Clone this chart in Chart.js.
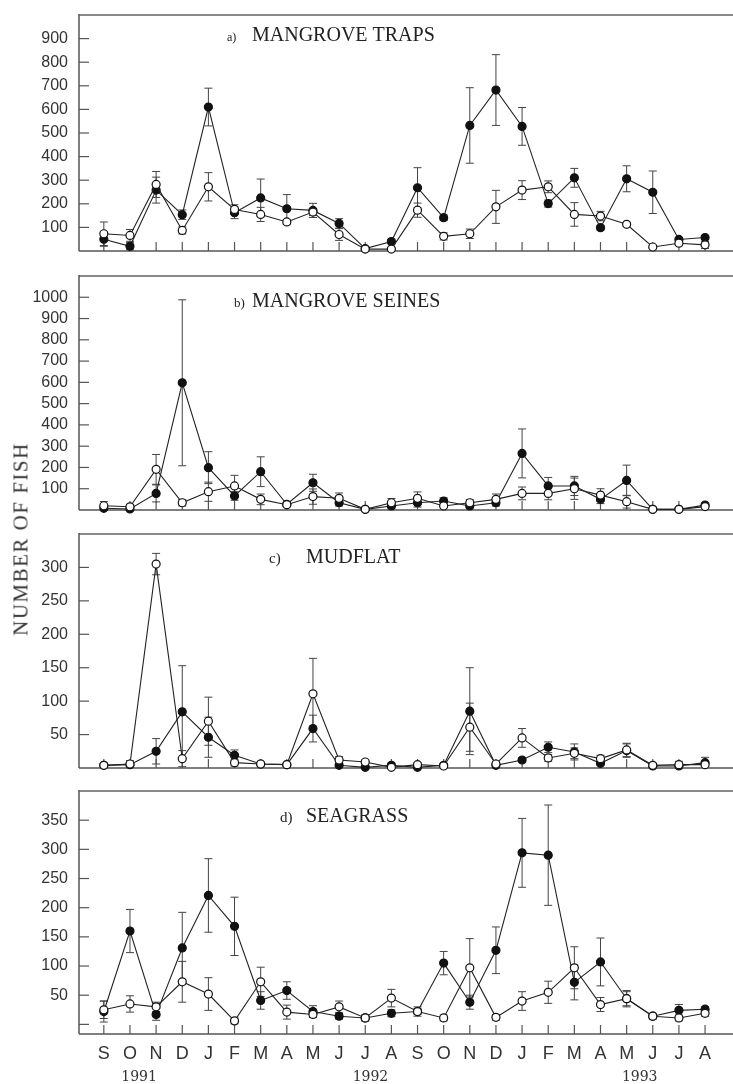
<!DOCTYPE html>
<html>
<head>
<meta charset="utf-8">
<script src="https://cdn.jsdelivr.net/npm/chart.js@4.4.1/dist/chart.umd.min.js"></script>
<style>
  html, body { margin: 0; padding: 0; background: #fff; }
  #wrap { position: relative; width: 733px; height: 1084px; overflow: hidden; background: #fff; }
  #wrap canvas { position: absolute; left: 0; }
  #ytitle {
    position: absolute; left: 21px; top: 539px;
    transform: translate(-50%, -50%) rotate(-90deg);
    font: 21px "Liberation Serif", serif; letter-spacing: 1.5px;
    color: #333; white-space: nowrap;
  }
</style>
</head>
<body>
<div id="wrap">
  <canvas id="ca"></canvas>
  <canvas id="cb"></canvas>
  <canvas id="cc"></canvas>
  <canvas id="cd"></canvas>
  <div id="ytitle">NUMBER OF FISH</div>
</div>
<script>
// months Sep 1991 .. Aug 1993
const months = ['S','O','N','D','J','F','M','A','M','J','J','A','S','O','N','D','J','F','M','A','M','J','J','A'];
const yearLabels = ['1991', '1992', '1993'];

// a) mangrove traps
const trapsFilled    = [50, 20, 258, 154, 610, 162, 225, 179, 172, 117, 10, 40, 268, 141, 532, 682, 528, 201, 310, 99, 306, 249, 49, 57];
const trapsFilledErr = [30, 15, 55, 20, 80, 25, 80, 60, 30, 20, 8, 10, 85, 12, 160, 150, 80, 15, 40, 10, 55, 90, 8, 8];
const trapsOpen      = [73, 66, 282, 87, 272, 176, 155, 123, 165, 70, 8, 8, 173, 62, 73, 187, 258, 272, 155, 148, 113, 17, 33, 26];
const trapsOpenErr   = [50, 25, 55, 15, 60, 20, 30, 10, 15, 25, 5, 5, 30, 15, 20, 70, 40, 25, 50, 20, 8, 5, 10, 15];
const trapsTicks = [100, 200, 300, 400, 500, 600, 700, 800, 900];

// b) mangrove seines
const seinesFilled    = [8, 5, 78, 598, 199, 66, 180, 27, 128, 34, 3, 19, 34, 42, 19, 34, 266, 113, 113, 50, 139, 3, 3, 23];
const seinesFilledErr = [10, 5, 40, 390, 75, 20, 70, 10, 40, 15, 3, 10, 20, 15, 10, 15, 115, 40, 45, 20, 72, 5, 5, 8];
const seinesOpen      = [20, 15, 191, 34, 86, 113, 50, 25, 63, 55, 3, 34, 55, 19, 34, 50, 78, 78, 100, 70, 39, 3, 3, 16];
const seinesOpenErr   = [20, 10, 70, 15, 45, 50, 25, 8, 36, 25, 3, 20, 30, 15, 15, 25, 30, 30, 50, 30, 30, 3, 3, 5];
const seinesTicks = [100, 200, 300, 400, 500, 600, 700, 800, 900, 1000];

// c) mudflat
const mudFilled    = [4, 5, 25, 84, 46, 19, 6, 5, 59, 4, 1, 4, 1, 4, 85, 4, 12, 31, 24, 7, 26, 3, 3, 8];
const mudFilledErr = [3, 3, 19, 69, 30, 8, 2, 2, 20, 3, 2, 3, 1, 3, 65, 2, 3, 8, 12, 3, 10, 2, 2, 8];
const mudOpen      = [4, 6, 305, 14, 70, 8, 6, 5, 111, 12, 9, 1, 5, 3, 61, 6, 45, 15, 22, 14, 27, 4, 5, 5];
const mudOpenErr   = [3, 5, 16, 12, 36, 5, 2, 2, 53, 5, 3, 2, 3, 3, 36, 3, 14, 5, 8, 5, 10, 3, 5, 5];
const mudTicks = [50, 100, 150, 200, 250, 300];

// d) seagrass
const grassFilled    = [22, 160, 17, 131, 221, 168, 41, 58, 22, 14, 11, 19, 22, 105, 38, 127, 294, 290, 72, 107, 44, 14, 24, 26];
const grassFilledErr = [18, 37, 10, 61, 63, 50, 15, 15, 10, 5, 5, 6, 8, 20, 12, 40, 59, 86, 30, 41, 14, 5, 10, 4];
const grassOpen      = [25, 35, 30, 73, 52, 6, 73, 21, 17, 30, 11, 45, 22, 11, 97, 12, 40, 55, 97, 34, 44, 14, 11, 19];
const grassOpenErr   = [15, 14, 8, 35, 28, 5, 25, 12, 5, 10, 5, 15, 5, 5, 50, 5, 16, 19, 36, 12, 12, 3, 5, 5];
const grassTicks = [50, 100, 150, 200, 250, 300, 350];

// draws frame, inward ticks, error bars and panel titles
const panelPlugin = {
  id: 'panel',
  beforeDatasetsDraw(chart, args, opts) {
    const { ctx, chartArea: a, scales: { x, y } } = chart;
    const line = (x1, y1, x2, y2) => { ctx.beginPath(); ctx.moveTo(x1, y1); ctx.lineTo(x2, y2); ctx.stroke(); };
    ctx.save();
    ctx.strokeStyle = '#8a8a8a'; ctx.lineWidth = 2;
    line(a.left, a.top, chart.width, a.top);
    ctx.strokeStyle = '#555'; ctx.lineWidth = 1.5;
    line(a.left, a.top - 1, a.left, a.bottom);
    line(a.left, a.bottom, chart.width, a.bottom);
    ctx.lineWidth = 1.2;
    opts.marks.forEach(v => { const py = y.getPixelForValue(v); line(a.left, py, a.left + 10, py); });
    months.forEach((m, i) => { const px = x.getPixelForValue(i); line(px, a.bottom, px, a.bottom - 9); });
    // error bars
    ctx.strokeStyle = '#444'; ctx.lineWidth = 1;
    chart.data.datasets.forEach((ds, di) => {
      const meta = chart.getDatasetMeta(di);
      ds.errors.forEach((e, j) => {
        const px = meta.data[j].x;
        const v = ds.data[j].y;
        const top = y.getPixelForValue(v + e);
        const bot = Math.min(y.getPixelForValue(v - e), a.bottom);
        line(px, top, px, bot);
        line(px - 4, top, px + 4, top);
        if (bot < a.bottom - 1) line(px - 4, bot, px + 4, bot);
      });
    });
    ctx.restore();
  },
  afterDraw(chart, args, opts) {
    const { ctx, chartArea: a, scales: { x } } = chart;
    ctx.save();
    ctx.fillStyle = '#222';
    ctx.textBaseline = 'alphabetic';
    ctx.font = opts.prefixSize + 'px "Liberation Serif", serif';
    ctx.fillText(opts.prefix, opts.prefixX, a.top + opts.titleDy);
    ctx.font = '20px "Liberation Serif", serif';
    ctx.fillText(opts.title, opts.titleX, a.top + opts.titleDy);
    if (opts.years) {
      ctx.font = '14px "DejaVu Serif", serif';
      ctx.textAlign = 'center';
      ctx.textBaseline = 'middle';
      ctx.fillStyle = '#333';
      opts.years.forEach((t, i) => ctx.fillText(t, x.getPixelForValue(opts.yearAt[i]), a.bottom + 43));
    }
    ctx.restore();
  }
};

function toPoints(vals) { return vals.map((v, i) => ({ x: i, y: v })); }

function noPad(s) { s.paddingTop = 0; s.paddingBottom = 0; s.paddingLeft = 0; s.paddingRight = 0; }

function makePanel(cfg) {
  const canvas = document.getElementById(cfg.id);
  canvas.width = 733;
  canvas.height = cfg.height;
  canvas.style.top = cfg.top + 'px';
  const common = { borderColor: '#222', borderWidth: 1.1, pointRadius: 4, pointBorderWidth: 1.2, pointBorderColor: '#111', tension: 0, clip: false };
  return new Chart(canvas, {
    type: 'line',
    data: {
      datasets: [
        Object.assign({ data: toPoints(cfg.open), errors: cfg.openErr, pointBackgroundColor: '#fff' }, common),
        Object.assign({ data: toPoints(cfg.filled), errors: cfg.filledErr, pointBackgroundColor: '#111' }, common)
      ]
    },
    options: {
      responsive: false,
      animation: false,
      layout: { padding: { top: 10, right: 0, left: 0, bottom: 0 } },
      plugins: {
        legend: { display: false },
        tooltip: { enabled: false },
        panel: cfg.panel
      },
      scales: {
        x: {
          type: 'linear', min: -0.95, max: 23.87,
          grid: { display: false, drawTicks: false },
          border: { display: false },
          afterBuildTicks: s => { s.ticks = months.map((m, i) => ({ value: i })); },
          afterFit: s => { s.height = cfg.bottomSpace; noPad(s); },
          ticks: {
            display: cfg.showMonths, autoSkip: false, maxRotation: 0, padding: 9,
            color: '#333', font: { family: 'Liberation Sans', size: 18 },
            callback: v => months[v]
          }
        },
        y: {
          min: cfg.yMin, max: cfg.yMax,
          grid: { display: false, drawTicks: false },
          border: { display: false },
          afterBuildTicks: s => { s.ticks = cfg.ticks.map(v => ({ value: v })); },
          afterFit: s => { s.width = 79; noPad(s); },
          ticks: { padding: 11, color: '#333', font: { family: 'Liberation Sans', size: 16 }, callback: v => String(v) }
        }
      }
    },
    plugins: [panelPlugin]
  });
}

makePanel({
  id: 'ca', top: 5, height: 258, bottomSpace: 12, showMonths: false,
  yMin: 0, yMax: 1000, ticks: trapsTicks,
  filled: trapsFilled, filledErr: trapsFilledErr, open: trapsOpen, openErr: trapsOpenErr,
  panel: { marks: trapsTicks, prefix: 'a)', prefixSize: 12, prefixX: 227, title: 'MANGROVE TRAPS', titleX: 252, titleDy: 26 }
});
makePanel({
  id: 'cb', top: 266, height: 256, bottomSpace: 12, showMonths: false,
  yMin: 0, yMax: 1100, ticks: seinesTicks,
  filled: seinesFilled, filledErr: seinesFilledErr, open: seinesOpen, openErr: seinesOpenErr,
  panel: { marks: seinesTicks, prefix: 'b)', prefixSize: 13, prefixX: 234, title: 'MANGROVE SEINES', titleX: 252, titleDy: 31 }
});
makePanel({
  id: 'cc', top: 524, height: 256, bottomSpace: 12, showMonths: false,
  yMin: 0, yMax: 350, ticks: mudTicks,
  filled: mudFilled, filledErr: mudFilledErr, open: mudOpen, openErr: mudOpenErr,
  panel: { marks: mudTicks, prefix: 'c)', prefixSize: 15, prefixX: 269, title: 'MUDFLAT', titleX: 306, titleDy: 29 }
});
makePanel({
  id: 'cd', top: 781, height: 303, bottomSpace: 50, showMonths: true,
  yMin: -16.5, yMax: 400, ticks: grassTicks,
  filled: grassFilled, filledErr: grassFilledErr, open: grassOpen, openErr: grassOpenErr,
  panel: { marks: [0].concat(grassTicks), prefix: 'd)', prefixSize: 15, prefixX: 280, title: 'SEAGRASS', titleX: 306, titleDy: 31,
           years: yearLabels, yearAt: [1.35, 10.2, 20.5] }
});
</script>
</body>
</html>
